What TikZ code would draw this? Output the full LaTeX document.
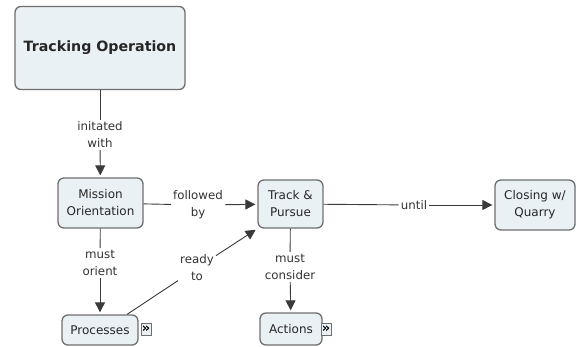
\documentclass[tikz,border=0pt]{standalone}
\usepackage{fontspec}
\setmainfont{DejaVu Sans}
\usepackage{tikz}
\usetikzlibrary{positioning,arrows.meta}

\definecolor{conceptfill}{HTML}{EAF1F5}
\definecolor{conceptline}{HTML}{6E6E6E}
\definecolor{linkline}{HTML}{3A3A3A}

\begin{document}
\begin{tikzpicture}[x=1pt, y=-1pt,
    concept/.style={draw=conceptline, fill=conceptfill, line width=1.3pt, rounded corners=6pt,
        align=center, inner sep=2pt, text=black!85, font=\fontsize{12}{17}\selectfont},
    linklabel/.style={align=center, inner sep=2pt, text=black!80, font=\fontsize{11.8}{17}\selectfont},
    link/.style={draw=linkline, line width=0.9pt},
    linkarrow/.style={link, -{Triangle[length=10pt,width=10pt]}, shorten >=2pt},
    moreicon/.style={draw=conceptline, fill=conceptfill, line width=0.8pt, inner sep=0pt,
        minimum width=10pt, minimum height=12pt, font=\fontsize{13}{13}\selectfont\bfseries}]
    \useasboundingbox (0,0) rectangle (577,347);

    \node[concept, minimum width=170pt, minimum height=83pt, font=\fontsize{14.2}{17}\selectfont\bfseries] (track_op) at (100,48) {Tracking Operation};
    \node[concept, minimum width=85pt, minimum height=50pt] (mission) at (100.5,203) {Mission\\Orientation};
    \node[concept, minimum width=65pt, minimum height=48pt] (pursue) at (290.5,204) {Track \&\\Pursue};
    \node[concept, minimum width=80pt, minimum height=50pt] (closing) at (535,205) {Closing w/\\Quarry};
    \node[concept, minimum width=76pt, minimum height=30pt] (processes) at (100,330) {Processes};
    \node[concept, minimum width=62pt, minimum height=32pt] (actions) at (291,329) {Actions};
    \node[moreicon] (proc_more) at (146,329) {»};
    \node[moreicon] (act_more) at (326,329) {»};

    % link phrases
    \node[linklabel] (initiated) at (100,135) {initated\\with};
    \node[linklabel] (followed) at (198,205) {followed\\by};
    \node[linklabel] (until) at (414,205) {until};
    \node[linklabel] (orient) at (100,263) {must\\orient};
    \node[linklabel] (ready) at (197,268) {ready\\to};
    \node[linklabel] (consider) at (290,267) {must\\consider};

    \draw[link] (track_op) -- (initiated);
    \draw[linkarrow] (initiated) -- (mission);
    \draw[link] (mission) -- (followed);
    \draw[linkarrow] (followed) -- (pursue);
    \draw[link] (pursue) -- (until);
    \draw[linkarrow] (until) -- (closing);
    \draw[link] (mission) -- (orient);
    \draw[linkarrow] (orient) -- (processes);
    \draw[link] (processes.30) -- (ready);
    \draw[linkarrow] (ready) -- (pursue.south west);
    \draw[link] (pursue) -- (consider);
    \draw[linkarrow] (consider) -- (actions);
\end{tikzpicture}
\end{document}
